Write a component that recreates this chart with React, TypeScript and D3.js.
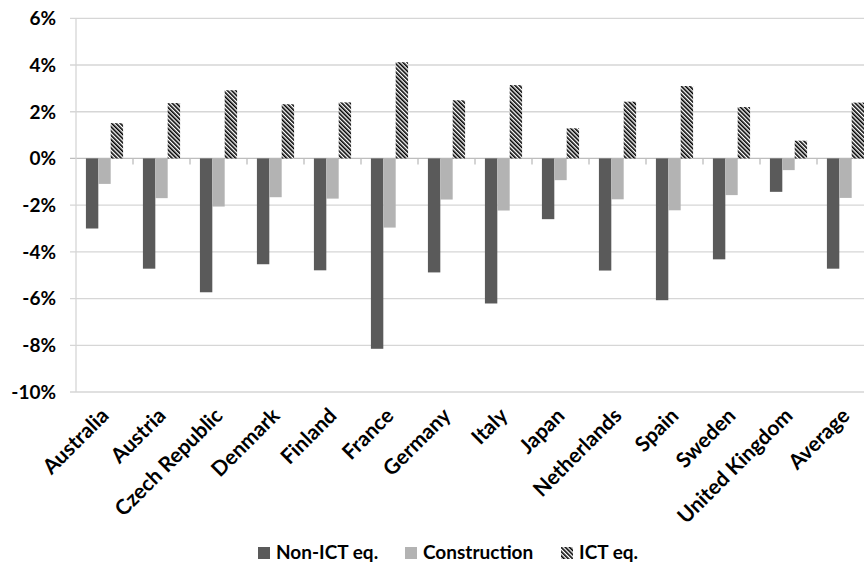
import React from "react";
import * as d3 from "d3";

const categories = [
  "Australia", "Austria", "Czech Republic", "Denmark", "Finland", "France", "Germany",
  "Italy", "Japan", "Netherlands", "Spain", "Sweden", "United Kingdom", "Average",
];
const nonIct = [-3.0, -4.72, -5.73, -4.53, -4.79, -8.15, -4.88, -6.21, -2.6, -4.8, -6.07, -4.32, -1.43, -4.72];
const construction = [-1.09, -1.7, -2.06, -1.66, -1.72, -2.96, -1.76, -2.23, -0.93, -1.75, -2.22, -1.57, -0.5, -1.69];
const ictEq = [1.51, 2.37, 2.92, 2.32, 2.4, 4.12, 2.49, 3.14, 1.29, 2.43, 3.1, 2.2, 0.76, 2.39];
const seriesNames = ["Non-ICT eq.", "Construction", "ICT eq."];
const yTicks = [6, 4, 2, 0, -2, -4, -6, -8, -10];

const W = 864;
const H = 564;
const FONT = "Lato, 'Open Sans', sans-serif";
const fills = ["#5a5a5a", "#b3b3b3", "url(#hatch)"];

export default function App() {
  const left = 76;
  const step = 57;
  const x0 = d3.scaleBand<string>().domain(categories).range([left, left + step * categories.length]).paddingInner(0).paddingOuter(0);
  const x1 = d3.scaleBand<string>().domain(seriesNames).range([0, x0.bandwidth()]).paddingInner(0).paddingOuter(0.8);
  const y = d3.scaleLinear().domain([-10, 6]).range([392, 18.3]);
  const series = [nonIct, construction, ictEq];
  const y0 = y(0);

  const legendX = [258, 405, 561];

  return (
    <svg width={W} height={H} style={{ position: "absolute", left: 0, top: 0, background: "#fff" }}>
      <defs>
        <pattern id="hatch" patternUnits="userSpaceOnUse" width="3" height="3" patternTransform="rotate(-45)">
          <rect x="0" y="0" width="3" height="3" fill="#fff" />
          <rect x="0" y="0" width="1.6" height="3" fill="#000" />
        </pattern>
      </defs>
      <rect x={0} y={0} width={W} height={H} fill="#fff" />
      {yTicks.map((t) => (
        <line key={t} x1={70} x2={W} y1={y(t)} y2={y(t)} stroke={t === 0 ? "#bdbdbd" : "#d6d6d6"} strokeWidth={1.3} />
      ))}
      <line x1={left} x2={left} y1={y(6)} y2={y(-10)} stroke="#d6d6d6" strokeWidth={1.3} />
      {yTicks.map((t) => (
        <text key={t} x={56} y={y(t)} dy="0.36em" textAnchor="end" fontFamily={FONT} fontWeight="bold" fontSize={19} fill="#000">
          {`${t}%`}
        </text>
      ))}
      {categories.map((c, i) => (
        <g key={c}>
          {series.map((s, k) => {
            const v = s[i];
            const yy = y(Math.max(0, v));
            const hh = Math.abs(y(v) - y0);
            return (
              <rect key={k} x={(x0(c) as number) + (x1(seriesNames[k]) as number)} y={yy} width={x1.bandwidth()} height={hh} fill={fills[k]} />
            );
          })}
        </g>
      ))}
      {categories.map((c) => (
        <line key={c} x1={(x0(c) as number) + step} x2={(x0(c) as number) + step} y1={y0} y2={y0 + 6} stroke="#bdbdbd" strokeWidth={1.3} />
      ))}
      {categories.map((c) => {
        const cx = (x0(c) as number) + x0.bandwidth() / 2;
        return (
          <text key={c} transform={`translate(${cx + 5.5},${417}) rotate(-45)`} textAnchor="end" fontFamily={FONT} fontWeight="bold" fontSize={21} fill="#000">
            {c}
          </text>
        );
      })}
      {seriesNames.map((n, k) => (
        <g key={n}>
          <rect x={legendX[k]} y={547} width={12} height={12} fill={fills[k]} />
          <text x={legendX[k] + 18} y={559} fontFamily={FONT} fontWeight="bold" fontSize={19} fill="#000">
            {n}
          </text>
        </g>
      ))}
    </svg>
  );
}
